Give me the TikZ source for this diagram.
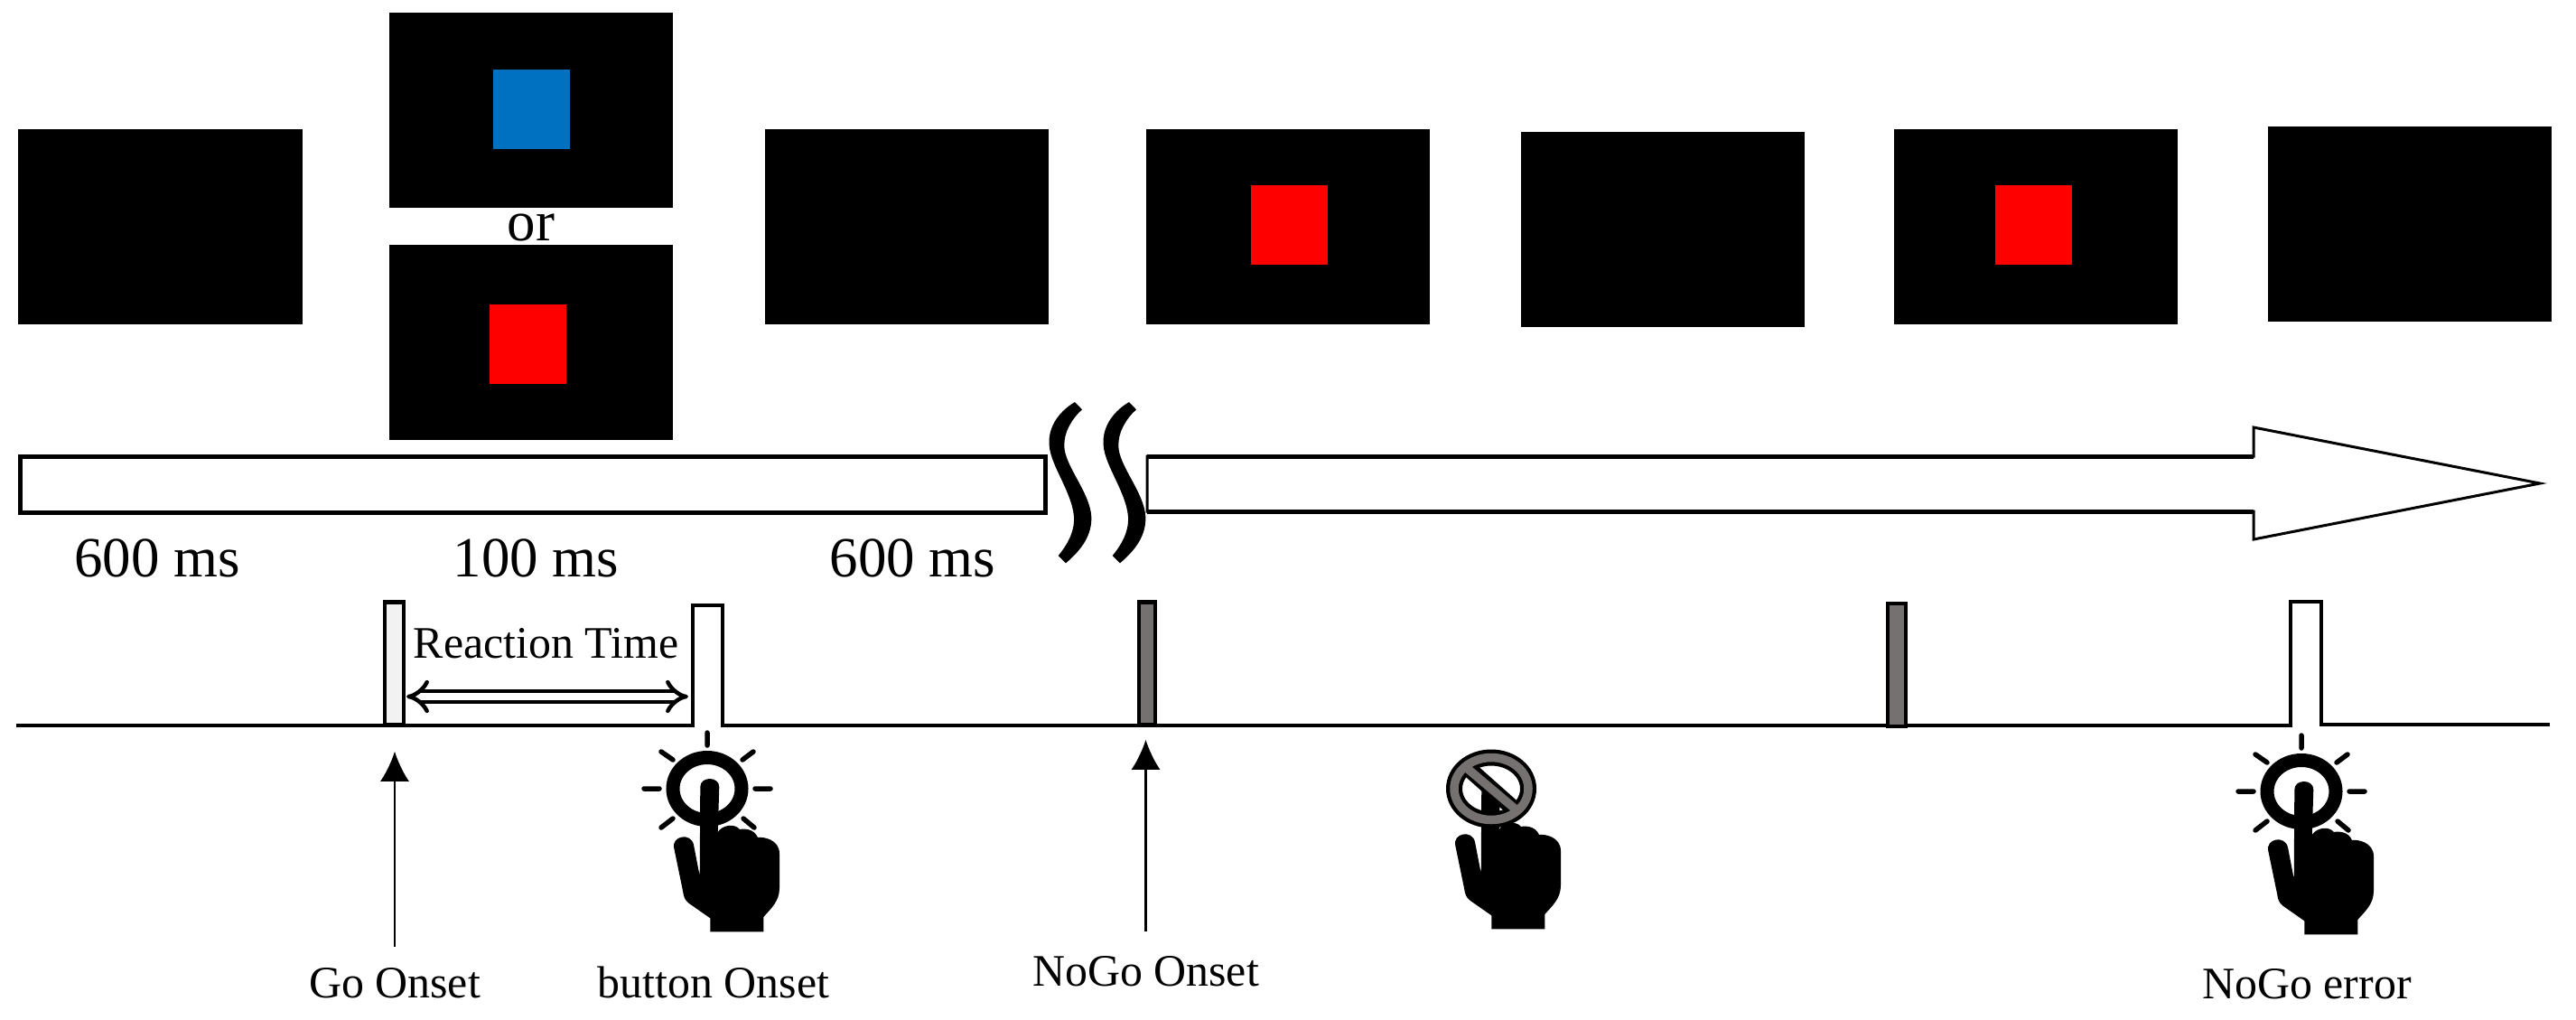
\documentclass[tikz,border=0pt]{standalone}
\usepackage{fontspec}
\setmainfont{Liberation Serif}
\definecolor{stimblue}{HTML}{0070C0}
\definecolor{stimred}{HTML}{FF0000}
\definecolor{pulsegray}{HTML}{767171}
\definecolor{pulselight}{HTML}{F2F2F2}
\usetikzlibrary{arrows.meta}
\tikzset{
	screenbox/.style={shape=rectangle, fill=black, inner sep=0pt, minimum width=3.14cm, minimum height=2.16cm},
	stimbox/.style={shape=rectangle, inner sep=0pt, minimum width=0.85cm, minimum height=0.88cm},
	biglabel/.style={anchor=base, inner sep=0pt, font=\fontsize{17.9}{20}\selectfont},
	smalllabel/.style={anchor=base, inner sep=0pt, font=\fontsize{14.2}{17}\selectfont},
	pulsebox/.style={shape=rectangle, draw=black, line width=0.045cm, inner sep=0pt, minimum height=1.36cm},
	timeline/.style={draw=black, line width=0.045cm},
	onset/.style={line width=0.025cm, -{Latex[width=0.32cm,length=0.33cm]}}
}
\newcommand{\squiggle}[1]
{
	\fill[xshift=#1cm] (11.9,-4.45) .. controls (11.7,-4.57) and (11.6,-4.75) .. (11.617,-4.93) .. controls (11.63,-5.15) and (11.87,-5.45) .. (11.89,-5.72) .. controls (11.9,-5.9) and (11.8,-6.05) .. (11.717,-6.15) -- (11.8,-6.233) .. controls (11.98,-6.08) and (12.09,-5.92) .. (12.083,-5.72) .. controls (12.07,-5.45) and (11.78,-5.15) .. (11.783,-4.93) .. controls (11.78,-4.78) and (11.87,-4.63) .. (11.98,-4.533) -- cycle
}
\newcommand{\hand}[2]
{
	\fill[shift={(#1,#2)}] (-0.077,0.02) .. controls (-0.077,0.14) and (0.133,0.14) .. (0.133,0.02) -- (0.117,-0.48) .. controls (0.17,-0.40) and (0.30,-0.38) .. (0.36,-0.45) .. controls (0.40,-0.44) and (0.52,-0.44) .. (0.56,-0.54) .. controls (0.62,-0.53) and (0.80,-0.56) .. (0.80,-0.72) -- (0.80,-1.10) .. controls (0.80,-1.25) and (0.70,-1.33) .. (0.623,-1.42) -- (0.623,-1.583) -- (0.033,-1.583) -- (0.033,-1.433) -- (-0.20,-1.27) .. controls (-0.25,-1.23) and (-0.26,-1.2) .. (-0.27,-1.13) -- (-0.367,-0.66) .. controls (-0.40,-0.52) and (-0.18,-0.48) .. (-0.15,-0.62) -- (-0.083,-0.967) -- cycle
}
\newcommand{\pressring}[2]
{
	\begin{scope}[shift={(#1,#2)}]
		\draw[line width=0.15cm] (0,0) ellipse (0.38 and 0.345);
		\draw[line width=0.055cm, line cap=round] (0,0.62) -- (0,0.48) (-0.70,0) -- (-0.53,0) (0.53,0) -- (0.70,0) (-0.51,0.41) -- (-0.38,0.32) (0.51,0.41) -- (0.39,0.32) (-0.51,-0.43) -- (-0.38,-0.33) (0.52,-0.43) -- (0.40,-0.33);
	\end{scope}
}
\begin{document}
\begin{tikzpicture}
	\useasboundingbox (0,0) rectangle (28.52,-11.28);

	\node[screenbox] at (1.775, -2.51) (blankA){};
	\node[screenbox] at (5.88, -1.22) (screenGo){};
	\node[screenbox] at (5.88, -3.79) (screenNoGo){};
	\node[screenbox] at (10.035, -2.51) (blankB){};
	\node[screenbox] at (14.255, -2.51) (screenC){};
	\node[screenbox] at (18.41, -2.535) (blankC){};
	\node[screenbox] at (22.54, -2.51) (screenD){};
	\node[screenbox] at (26.675, -2.48) (blankD){};

	\node[stimbox, fill=stimblue] at (5.885, -1.21) (stimGo){};
	\node[stimbox, fill=stimred] at (5.84, -3.81) (stimNoGo){};
	\node[stimbox, fill=stimred] at (14.27, -2.485) (stimC){};
	\node[stimbox, fill=stimred] at (22.51, -2.485) (stimD){};

	\node[biglabel] at (5.88, -2.66) (orlabel){or};

	\node[shape=rectangle, draw=black, fill=white, line width=0.05cm, inner sep=0pt, minimum width=11.34cm, minimum height=0.62cm] at (5.90, -5.36) (barleft){};
	\draw[line width=0.03cm, fill=white] (12.70,-5.05) -- (24.95,-5.05) -- (24.95,-4.73) -- (28.12,-5.35) -- (24.95,-5.97) -- (24.95,-5.66) -- (12.70,-5.66) -- cycle;
	\draw[line width=0.05cm] (12.70,-5.05) -- (24.95,-5.05) (12.70,-5.66) -- (24.95,-5.66);
	\squiggle{0};
	\squiggle{0.6};

	\node[biglabel] at (1.74, -6.38) (timeA){600 ms};
	\node[biglabel] at (5.935, -6.38) (timeB){100 ms};
	\node[biglabel] at (10.105, -6.38) (timeC){600 ms};

	\draw[timeline] (0.18,-8.03) -- (7.67,-8.03) -- (7.67,-6.70) -- (8.00,-6.70) -- (8.00,-8.03) -- (25.36,-8.03) -- (25.36,-6.66) -- (25.70,-6.66) -- (25.70,-8.02) -- (28.23,-8.02);

	\node[pulsebox, fill=pulselight, minimum width=0.21cm] at (4.365, -7.345) (pulseGo){};
	\node[pulsebox, fill=pulsegray, minimum width=0.18cm] at (12.70, -7.345) (pulseNoGo){};
	\node[pulsebox, fill=pulsegray, minimum width=0.20cm] at (21.00, -7.36) (pulseNoGoB){};

	\node[smalllabel] at (6.045, -7.28) (rtlabel){Reaction Time};
	\coordinate (rtleft) at (4.50, -7.71);
	\coordinate (rtright) at (7.62, -7.71);
	\draw[{Implies[scale=1.2]}-{Implies[scale=1.2]}, double, line width=0.045cm, double distance=0.075cm] (rtleft) -- (rtright);

	\node[smalllabel] at (4.37, -11.04) (golabel){Go Onset};
	\node[smalllabel] at (7.90, -11.04) (buttonlabel){button Onset};
	\node[smalllabel] at (12.685, -10.91) (nogolabel){NoGo Onset};
	\node[smalllabel] at (25.54, -11.05) (errorlabel){NoGo error};

	\draw[onset, shorten <=0.22cm, shorten >=0.27cm] (golabel.north) -- (golabel.north |- pulseGo.south);
	\draw[onset, shorten <=0.26cm, shorten >=0.14cm] (nogolabel.north) -- (nogolabel.north |- pulseNoGo.south);

	\hand{7.83}{-8.73};
	\pressring{7.83}{-8.73};
	\hand{25.48}{-8.76};
	\pressring{25.48}{-8.76};

	\hand{16.48}{-8.70};
	\begin{scope}[shift={(16.51,-8.73)}]
		\fill[white] (-0.29,0.245) -- (0.29,-0.245) -- (0.42,0.36) -- (-0.20,0.36) -- cycle;
		\draw[line width=0.18cm] (0,0) ellipse (0.41 and 0.345);
		\draw[line width=0.18cm] (-0.27,0.24) -- (0.27,-0.24);
		\draw[line width=0.095cm, pulsegray] (0,0) ellipse (0.41 and 0.345);
		\draw[line width=0.095cm, pulsegray] (-0.29,0.245) -- (0.29,-0.245);
	\end{scope}
\end{tikzpicture}
\end{document}
